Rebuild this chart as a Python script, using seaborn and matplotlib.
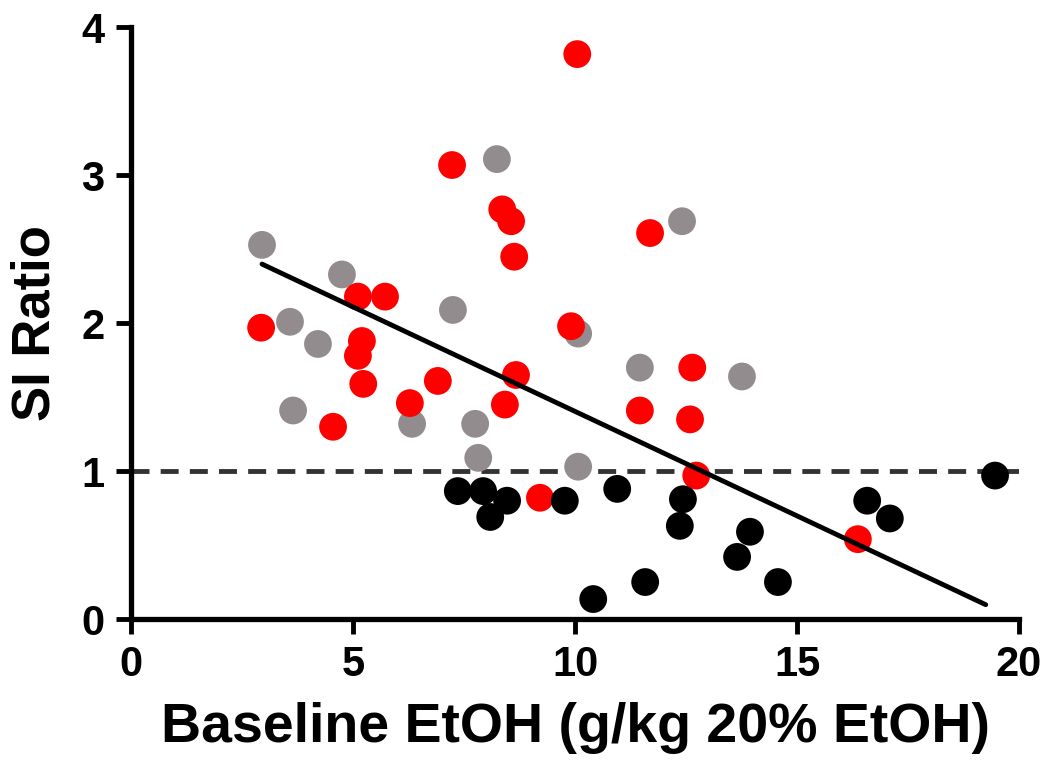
import numpy as np
import pandas as pd
import matplotlib
matplotlib.use("Agg")
import matplotlib.pyplot as plt
import seaborn as sns

# values
red_x = [10.05, 7.23, 8.36, 8.56, 8.63, 11.69, 2.93, 5.11, 5.72, 5.20, 5.11, 5.23,
         4.55, 6.28, 6.91, 8.67, 8.42, 9.91, 11.46, 12.64, 12.59, 9.21, 12.73, 16.37]
red_y = [3.82, 3.07, 2.77, 2.69, 2.45, 2.61, 1.97, 2.18, 2.18, 1.88, 1.78, 1.59,
         1.30, 1.46, 1.61, 1.65, 1.45, 1.98, 1.41, 1.70, 1.35, 0.82, 0.97, 0.54]

gray_x = [2.95, 4.75, 8.24, 12.41, 3.58, 4.21, 7.25, 3.65, 6.33, 7.75, 7.82,
          10.07, 10.07, 11.46, 13.76]
gray_y = [2.53, 2.33, 3.11, 2.69, 2.01, 1.86, 2.09, 1.41, 1.32, 1.32, 1.09,
          1.03, 1.93, 1.70, 1.64]

black_x = [7.36, 7.93, 8.09, 8.47, 9.77, 10.95, 10.41, 11.58, 12.43, 12.36,
           13.94, 13.65, 14.57, 16.58, 17.09, 19.46]
black_y = [0.865, 0.865, 0.69, 0.80, 0.80, 0.88, 0.135, 0.25, 0.81, 0.63,
           0.59, 0.42, 0.25, 0.80, 0.68, 0.97]

# fitted line as shown in the figure
fit_slope = -0.1413
fit_intercept = 2.817
fit_x = [2.95, 19.25]

groups = ["gray", "red", "black"]
colors = {"gray": "#938c8e", "red": "#ff0000", "black": "#000000"}

df = pd.DataFrame({
    "x": gray_x + red_x + black_x,
    "y": gray_y + red_y + black_y,
    "group": ["gray"] * len(gray_x) + ["red"] * len(red_x) + ["black"] * len(black_x),
})
fit_df = pd.DataFrame({"x": fit_x})
fit_df["y"] = fit_intercept + fit_slope * fit_df["x"]

sns.set_style("ticks")
plt.rcParams["font.family"] = ["Liberation Sans", "DejaVu Sans"]
plt.rcParams["font.weight"] = "bold"
plt.rcParams["text.color"] = "black"
plt.rcParams["axes.labelcolor"] = "black"

fig = plt.figure(figsize=(10.5, 7.81), dpi=100)
ax = fig.add_axes([0.1248, 0.2074, 0.8457, 0.7574])

ax.axhline(1, color="#333333", lw=3.5, ls=(0, (3.7, 2.3)), zorder=1)
sns.scatterplot(data=df, x="x", y="y", hue="group", hue_order=groups, palette=colors,
                s=400, linewidth=0, legend=False, ax=ax, zorder=3)
sns.lineplot(data=fit_df, x="x", y="y", color="black", lw=3.5, ax=ax, zorder=4)

ax.set_xlim(0, 20)
ax.set_ylim(0, 4)
ax.set_xticks([0, 5, 10, 15, 20])
ax.set_yticks([0, 1, 2, 3, 4])
ax.set_xlabel("Baseline EtOH (g/kg 20% EtOH)", fontsize=40, fontweight="bold",
              labelpad=12, color="black")
ax.set_ylabel("SI Ratio", fontsize=38, fontweight="bold", labelpad=15, color="black")
ax.tick_params(labelsize=30, width=3.5, length=11, pad=8, colors="black")
for lbl in ax.get_xticklabels() + ax.get_yticklabels():
    lbl.set_fontweight("bold")
for sp in ["left", "bottom"]:
    ax.spines[sp].set_linewidth(3.8)
    ax.spines[sp].set_color("black")
sns.despine(ax=ax)

fig.savefig("out.png", dpi=100)
